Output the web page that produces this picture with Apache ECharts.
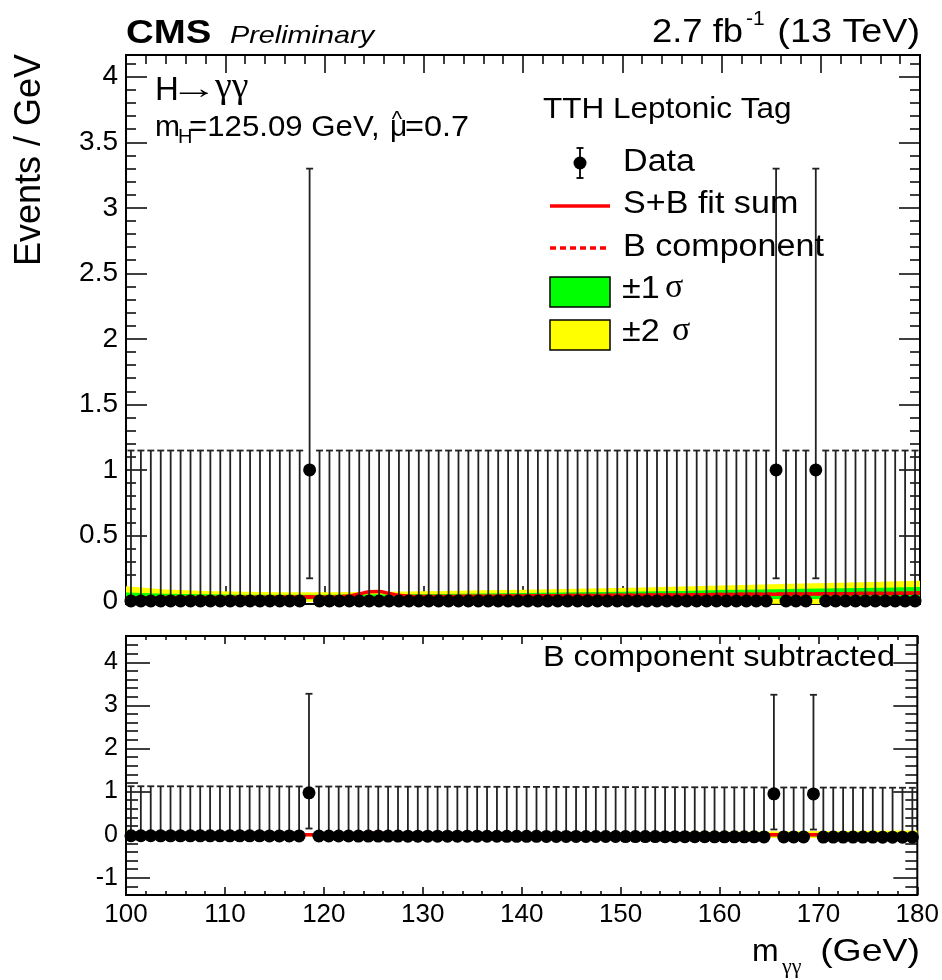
<!DOCTYPE html>
<html>
<head>
<meta charset="utf-8">
<script src="https://cdn.jsdelivr.net/npm/echarts@6/dist/echarts.min.js"></script>
<style>
  html, body { margin: 0; padding: 0; background: #fff; }
  #chart { width: 942px; height: 980px; }
</style>
</head>
<body>
<div id="chart"></div>
<script>
// Diphoton mass spectrum, TTH leptonic category, 1 GeV bins from 100 to 180 GeV
const massRange = [100, 180];

// events per 1 GeV bin (bin i is centred on 100.5 + i)
const counts = [
  0, 0, 0, 0, 0, 0, 0, 0, 0, 0,
  0, 0, 0, 0, 0, 0, 0, 0, 1, 0,
  0, 0, 0, 0, 0, 0, 0, 0, 0, 0,
  0, 0, 0, 0, 0, 0, 0, 0, 0, 0,
  0, 0, 0, 0, 0, 0, 0, 0, 0, 0,
  0, 0, 0, 0, 0, 0, 0, 0, 0, 0,
  0, 0, 0, 0, 0, 1, 0, 0, 0, 1,
  0, 0, 0, 0, 0, 0, 0, 0, 0, 0
];

// Poisson 68% interval half-widths, indexed by observed count
const poissonDown = [0, 0.827];
const poissonUp = [1.148, 2.299];

// background-only fit evaluated at each bin centre
const bkgBins = [
  0.025, 0.025, 0.025, 0.026, 0.026, 0.026, 0.026, 0.027, 0.027, 0.027,
  0.028, 0.028, 0.028, 0.028, 0.029, 0.029, 0.030, 0.030, 0.030, 0.031,
  0.031, 0.031, 0.031, 0.032, 0.032, 0.032, 0.033, 0.033, 0.034, 0.034,
  0.034, 0.035, 0.035, 0.035, 0.036, 0.036, 0.037, 0.037, 0.038, 0.038,
  0.039, 0.039, 0.040, 0.040, 0.041, 0.041, 0.042, 0.042, 0.043, 0.043,
  0.044, 0.044, 0.045, 0.045, 0.046, 0.046, 0.047, 0.048, 0.048, 0.049,
  0.050, 0.050, 0.051, 0.051, 0.052, 0.052, 0.053, 0.053, 0.054, 0.054,
  0.055, 0.055, 0.056, 0.056, 0.057, 0.057, 0.058, 0.058, 0.059, 0.060
];

// fitted signal component (mu-hat = 0.7, mH = 125.09 GeV) at each bin centre
const sigBins = [
  0, 0, 0, 0, 0, 0, 0, 0, 0, 0,
  0, 0, 0, 0, 0, 0, 0, 0, 0, 0,
  0.000, 0.002, 0.007, 0.022, 0.038, 0.040, 0.025, 0.010, 0.002, 0.000,
  0, 0, 0, 0, 0, 0, 0, 0, 0, 0,
  0, 0, 0, 0, 0, 0, 0, 0, 0, 0,
  0, 0, 0, 0, 0, 0, 0, 0, 0, 0,
  0, 0, 0, 0, 0, 0, 0, 0, 0, 0,
  0, 0, 0, 0, 0, 0, 0, 0, 0, 0
];

// uncertainty bands on the background fit
const bandMass = [100, 104, 108, 112, 116, 120, 124, 128, 132, 136, 140, 144, 148, 152, 156, 160, 164, 168, 172, 176, 180];
const bandBkg = [0.025, 0.026, 0.027, 0.028, 0.030, 0.031, 0.032, 0.034, 0.035, 0.037, 0.039, 0.041, 0.043, 0.045, 0.047, 0.050, 0.052, 0.054, 0.056, 0.058, 0.060];
const band1Sigma = [0.040, 0.030, 0.024, 0.020, 0.018, 0.017, 0.017, 0.018, 0.019, 0.020, 0.022, 0.023, 0.025, 0.027, 0.030, 0.033, 0.036, 0.039, 0.041, 0.043, 0.046];
const band2Sigma = [0.088, 0.062, 0.050, 0.042, 0.037, 0.036, 0.037, 0.039, 0.041, 0.044, 0.047, 0.050, 0.054, 0.058, 0.063, 0.068, 0.074, 0.079, 0.084, 0.089, 0.094];

// y-axis tick values
const topMajorTicks = [0, 0.5, 1, 1.5, 2, 2.5, 3, 3.5, 4];
const botMajorTicks = [-1, 0, 1, 2, 3, 4];
const topMinorTicks = Array.from({ length: 42 }, (_, i) => +(i * 0.1).toFixed(1));
const botMinorTicks = Array.from({ length: 29 }, (_, i) => +(-1.2 + i * 0.2).toFixed(1));

// ---------------------------------------------------------------------------
const SANS = '"Liberation Sans", Arial, Helvetica, sans-serif';
const SERIF = '"Liberation Serif", "DejaVu Serif", serif';
const RED = '#ff0000', GREEN = '#00ff00', YELLOW = '#ffff00';

const binCenters = counts.map((_, i) => massRange[0] + 0.5 + i);

// data rows: [mass, value, low edge, high edge]
const topPoints = counts.map((n, i) => [binCenters[i], n, n - poissonDown[n], n + poissonUp[n]]);
const botPoints = counts.map((n, i) => {
  const b = bkgBins[i];
  return [binCenters[i], n - b, n - poissonDown[n] - b, n + poissonUp[n] - b];
});

// curves extended flat to the histogram edges
function edgeCurve(vals) {
  const pts = vals.map((v, i) => [binCenters[i], v]);
  pts.unshift([massRange[0], vals[0]]);
  pts.push([massRange[1], vals[vals.length - 1]]);
  return pts;
}
const bkgCurve = edgeCurve(bkgBins);
const sbCurve = edgeCurve(bkgBins.map((b, i) => b + sigBins[i]));
const sigCurve = edgeCurve(sigBins);

const top2Lo = bandBkg.map((b, i) => b - band2Sigma[i]);
const top2Hi = bandBkg.map((b, i) => b + band2Sigma[i]);
const top1Lo = bandBkg.map((b, i) => b - band1Sigma[i]);
const top1Hi = bandBkg.map((b, i) => b + band1Sigma[i]);
const bot2Lo = band2Sigma.map(e => -e);
const bot1Lo = band1Sigma.map(e => -e);

function bandSeries(xi, yi, lo, hi, color) {
  return {
    type: 'custom', xAxisIndex: xi, yAxisIndex: yi, silent: true, z: 1,
    data: [[bandMass[0], 0]],
    renderItem(params, api) {
      const cs = params.coordSys;
      const clamp = p => [
        Math.min(Math.max(p[0], cs.x), cs.x + cs.width),
        Math.min(Math.max(p[1], cs.y), cs.y + cs.height)
      ];
      const pts = [];
      for (let i = 0; i < bandMass.length; i++) pts.push(clamp(api.coord([bandMass[i], hi[i]])));
      for (let i = bandMass.length - 1; i >= 0; i--) pts.push(clamp(api.coord([bandMass[i], lo[i]])));
      return { type: 'polygon', shape: { points: pts }, style: { fill: color } };
    }
  };
}

function lineSeries(xi, yi, data, dashed) {
  return {
    type: 'line', xAxisIndex: xi, yAxisIndex: yi, data, silent: true, z: 2,
    showSymbol: false, symbol: 'none', smooth: 0.35,
    lineStyle: { color: RED, width: 3.5, type: dashed ? [6, 4] : 'solid' }
  };
}

function errorSeries(xi, yi, data) {
  return {
    type: 'custom', xAxisIndex: xi, yAxisIndex: yi, silent: true, z: 3,
    data,
    renderItem(params, api) {
      const x = api.value(0);
      const lo = api.coord([x, api.value(2)]);
      const hi = api.coord([x, api.value(3)]);
      const st = { stroke: '#222', lineWidth: 1.8 };
      const cap = 3.5;
      return {
        type: 'group',
        children: [
          { type: 'line', shape: { x1: hi[0], y1: hi[1], x2: lo[0], y2: lo[1] }, style: st },
          { type: 'line', shape: { x1: hi[0] - cap, y1: hi[1], x2: hi[0] + cap, y2: hi[1] }, style: st },
          { type: 'line', shape: { x1: lo[0] - cap, y1: lo[1], x2: lo[0] + cap, y2: lo[1] }, style: st }
        ]
      };
    }
  };
}

function pointSeries(xi, yi, data) {
  return {
    type: 'scatter', xAxisIndex: xi, yAxisIndex: yi, silent: true, z: 4,
    data: data.map(r => [r[0], r[1]]),
    symbol: 'circle', symbolSize: 13, itemStyle: { color: '#000', opacity: 1 }
  };
}

function xAxisDef(gi, pos, major, minor, labels) {
  return {
    type: 'value', gridIndex: gi, position: pos, min: massRange[0], max: massRange[1], interval: 10,
    axisLine: { show: false, onZero: false },
    splitLine: { show: false },
    axisTick: { show: true, inside: true, length: major, lineStyle: { color: '#000', width: 1.5 } },
    minorTick: { show: true, splitNumber: 5, length: minor, lineStyle: { color: '#000', width: 1.5 } },
    axisLabel: { show: labels, margin: 7, color: '#000', fontFamily: SANS, fontSize: 26 }
  };
}

function yAxisDef(gi, pos, range, ticks, len, labels, size) {
  return {
    type: 'value', gridIndex: gi, position: pos, min: range[0], max: range[1],
    axisLine: { show: false, onZero: false },
    splitLine: { show: false },
    axisTick: { show: true, inside: true, length: len, customValues: ticks, lineStyle: { color: '#000', width: 1.5 } },
    axisLabel: { show: labels, customValues: ticks, margin: 8, color: '#000', fontFamily: SANS, fontSize: size || 26 }
  };
}

const topRange = [-0.023, 4.166];
const botRange = [-1.40, 4.61];

// text helper: (x, baseline) anchored
function txt(x, base, text, size, o = {}) {
  const family = o.family || SANS;
  const font = (o.style || '') + ' ' + (o.weight || '') + ' ' + size + 'px ' + family;
  return {
    type: 'text', x, y: base - 0.35 * size, scaleX: o.scaleX || 1, rotation: o.rotation || 0,
    silent: true, z: 20,
    style: {
      text, font, fill: '#000',
      align: o.align || 'left', textAlign: o.align || 'left',
      verticalAlign: 'middle', textVerticalAlign: 'middle'
    }
  };
}

const W = 1.1; // horizontal stretch used for the annotation text

const graphics = [
  txt(126, 46, 'CMS', 34, { weight: 'bold', scaleX: 1.13 }),
  txt(230, 45, 'Preliminary', 24, { style: 'italic', scaleX: 1.2 }),
  txt(652, 45, '2.7 fb', 34, { scaleX: 1.07 }),
  txt(746, 27, '-1', 21),
  txt(920, 45, '(13 TeV)', 34, { align: 'right', scaleX: 1.11 }),
  // vertical axis title
  {
    type: 'text', x: 30, y: 54, rotation: Math.PI / 2, silent: true, z: 20,
    style: { text: 'Events / GeV', font: '36px ' + SANS, fill: '#000', align: 'right', textAlign: 'right', verticalAlign: 'middle', textVerticalAlign: 'middle' }
  },
  // process and fit labels
  txt(155, 102, 'H', 33),
  txt(194, 100, '\u2192', 30, { align: 'center', scaleX: 1.6 }),
  txt(215, 100, '\u03b3\u03b3', 36, { family: SERIF, scaleX: 1.05 }),
  txt(155, 138, 'm', 30),
  txt(178, 144, 'H', 20),
  txt(189, 138, '=125.09 GeV,', 30, { scaleX: 1.04 }),
  txt(390, 138, '\u03bc', 30),
  txt(397, 128, '^', 22, { align: 'center' }),
  txt(405, 138, '=0.7', 30, { scaleX: 1.08 }),
  // legend
  txt(543, 120, 'TTH Leptonic Tag', 30, { scaleX: 1.05 }),
  { type: 'line', silent: true, z: 20, shape: { x1: 580, y1: 148, x2: 580, y2: 178 }, style: { stroke: '#000', lineWidth: 1.8 } },
  { type: 'line', silent: true, z: 20, shape: { x1: 576.5, y1: 148, x2: 583.5, y2: 148 }, style: { stroke: '#000', lineWidth: 1.8 } },
  { type: 'line', silent: true, z: 20, shape: { x1: 576.5, y1: 178, x2: 583.5, y2: 178 }, style: { stroke: '#000', lineWidth: 1.8 } },
  { type: 'circle', silent: true, z: 21, shape: { cx: 580, cy: 163, r: 6.5 }, style: { fill: '#000' } },
  txt(623, 173, 'Data', 31, { scaleX: W }),
  { type: 'line', silent: true, z: 20, shape: { x1: 550, y1: 206, x2: 610, y2: 206 }, style: { stroke: RED, lineWidth: 3.5 } },
  txt(623, 215, 'S+B fit sum', 31, { scaleX: W }),
  { type: 'line', silent: true, z: 20, shape: { x1: 550, y1: 248, x2: 610, y2: 248 }, style: { stroke: RED, lineWidth: 3.5, lineDash: [6, 4] } },
  txt(623, 258, 'B component', 31, { scaleX: W }),
  { type: 'rect', silent: true, z: 20, shape: { x: 550, y: 277, width: 60, height: 30 }, style: { fill: GREEN, stroke: '#000', lineWidth: 1.5 } },
  txt(622, 300, '\u00b11', 31, { scaleX: W }),
  txt(665, 300, '\u03c3', 34, { family: SERIF }),
  { type: 'rect', silent: true, z: 20, shape: { x: 550, y: 320, width: 60, height: 30 }, style: { fill: YELLOW, stroke: '#000', lineWidth: 1.5 } },
  txt(622, 343, '\u00b12', 31, { scaleX: W }),
  txt(672, 343, '\u03c3', 34, { family: SERIF }),
  // lower panel label
  txt(895, 668, 'B component subtracted', 29, { align: 'right', scaleX: 1.12 }),
  // horizontal axis title
  txt(752, 963, 'm', 32),
  txt(782, 975, '\u03b3\u03b3', 22, { family: SERIF }),
  txt(920, 963, '(GeV)', 32, { align: 'right', scaleX: 1.17 })
];

const option = {
  animation: false,
  backgroundColor: '#fff',
  grid: [
    { left: 126, top: 55, width: 794, height: 549, show: true, borderColor: '#000', borderWidth: 2, backgroundColor: 'transparent' },
    { left: 126, top: 636, width: 794, height: 259, show: true, borderColor: '#000', borderWidth: 2, backgroundColor: 'transparent' }
  ],
  xAxis: [
    xAxisDef(0, 'bottom', 18, 9, false),
    xAxisDef(0, 'top', 18, 9, false),
    xAxisDef(1, 'bottom', 8, 4, true),
    xAxisDef(1, 'top', 8, 4, false)
  ],
  yAxis: [
    yAxisDef(0, 'left', topRange, topMajorTicks, 21, true, 28),
    yAxisDef(0, 'left', topRange, topMinorTicks, 10, false),
    yAxisDef(0, 'right', topRange, topMajorTicks, 21, false),
    yAxisDef(0, 'right', topRange, topMinorTicks, 10, false),
    yAxisDef(1, 'left', botRange, botMajorTicks, 24, true, 25),
    yAxisDef(1, 'left', botRange, botMinorTicks, 12, false),
    yAxisDef(1, 'right', botRange, botMajorTicks, 24, false),
    yAxisDef(1, 'right', botRange, botMinorTicks, 12, false)
  ],
  series: [
    // upper panel
    bandSeries(0, 0, top2Lo, top2Hi, YELLOW),
    bandSeries(0, 0, top1Lo, top1Hi, GREEN),
    lineSeries(0, 0, bkgCurve, true),
    lineSeries(0, 0, sbCurve, false),
    errorSeries(0, 0, topPoints),
    pointSeries(0, 0, topPoints),
    // lower panel, background subtracted
    bandSeries(2, 4, bot2Lo, band2Sigma, YELLOW),
    bandSeries(2, 4, bot1Lo, band1Sigma, GREEN),
    lineSeries(2, 4, sigCurve, false),
    errorSeries(2, 4, botPoints),
    pointSeries(2, 4, botPoints)
  ],
  graphic: graphics
};

const chart = echarts.init(document.getElementById('chart'), null, { renderer: 'canvas' });
chart.setOption(option);
</script>
</body>
</html>
